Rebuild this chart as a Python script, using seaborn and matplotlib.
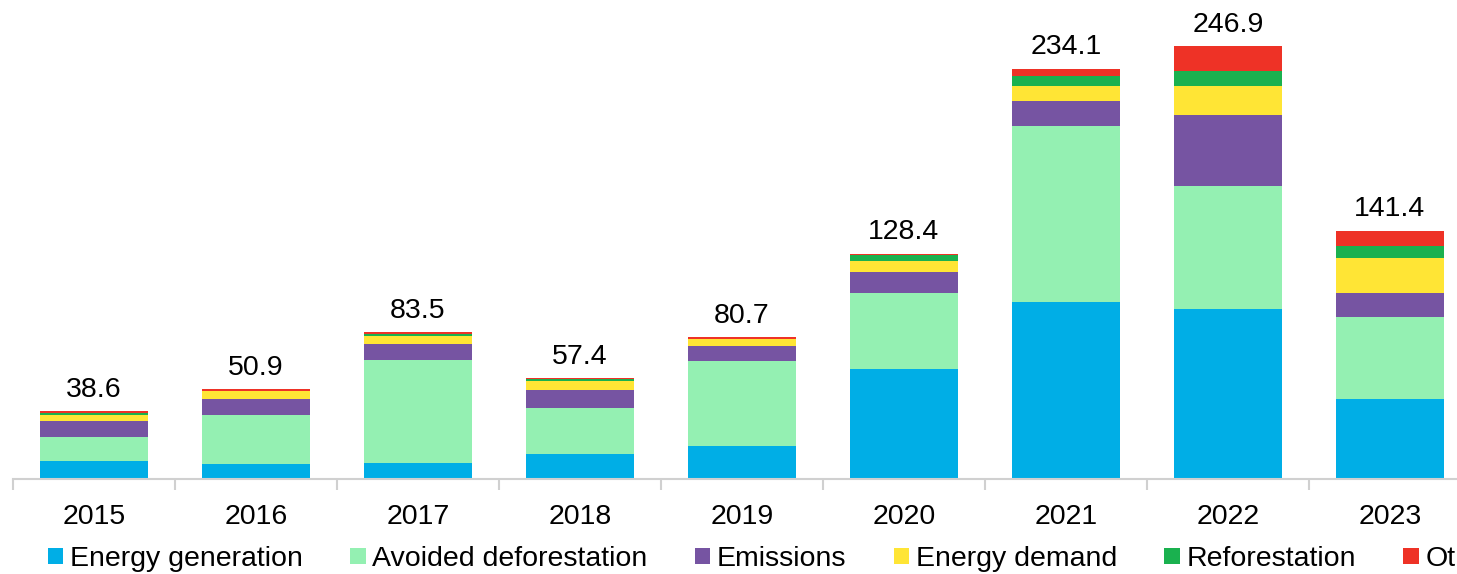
import numpy as np
import pandas as pd
import matplotlib
matplotlib.use("Agg")
import matplotlib.pyplot as plt
import seaborn as sns

years = ["2015", "2016", "2017", "2018", "2019", "2020", "2021", "2022", "2023"]
totals = [38.6, 50.9, 83.5, 57.4, 80.7, 128.4, 234.1, 246.9, 141.4]

energy_generation = [9.8, 8.3, 9.0, 13.9, 18.6, 62.7, 100.5, 96.8, 45.5]
avoided_deforestation = [13.9, 28.1, 58.9, 26.6, 48.5, 43.3, 100.6, 70.2, 46.5]
emissions = [9.1, 9.0, 9.1, 9.9, 8.4, 12.0, 14.6, 40.5, 14.1]
energy_demand = [3.6, 4.4, 4.6, 5.0, 4.0, 6.3, 8.4, 16.7, 19.6]
reforestation = [1.0, 0.4, 1.1, 1.3, 0.3, 3.0, 5.7, 8.4, 7.1]
other = [1.2, 0.7, 0.8, 0.7, 0.9, 1.1, 4.2, 14.3, 8.6]

series = [
    ("Energy generation", energy_generation, "#00aee6"),
    ("Avoided deforestation", avoided_deforestation, "#94f0b2"),
    ("Emissions", emissions, "#7654a2"),
    ("Energy demand", energy_demand, "#ffe535"),
    ("Reforestation", reforestation, "#1ab14f"),
    ("Other", other, "#ee3226"),
]

sns.set_style("white")
plt.rcParams["font.family"] = ["Liberation Sans", "DejaVu Sans"]
plt.rcParams["text.color"] = "black"
fs = 20.5

fig = plt.figure(figsize=(14.57, 5.74), dpi=100)
ax = fig.add_axes([13 / 1457, 1 - 478.5 / 574, 1458 / 1457, 478.5 / 574])

bottom = np.zeros(len(years))
for name, vals, color in series:
    sns.barplot(x=years, y=vals, bottom=bottom, color=color, width=0.667,
                label=name, ax=ax, linewidth=0, saturation=1)
    bottom = bottom + np.array(vals)

for i, t in enumerate(totals):
    ax.annotate(f"{t:.1f}", (i, t), xytext=(0, 6), textcoords="offset points",
                ha="center", va="bottom", fontsize=fs, color="black")

ax.set_xlim(-0.5, 8.5)
ax.set_ylim(0, 273.1)
ax.set_yticks([])
for s in ["top", "right", "left"]:
    ax.spines[s].set_visible(False)
ax.spines["bottom"].set_color("#d0d0d0")
ax.spines["bottom"].set_linewidth(1.5)
ax.set_xticks(np.arange(-0.5, 9, 1), minor=True)
ax.tick_params(axis="x", which="minor", length=8, width=1.5, color="#d0d0d0", bottom=True)
ax.tick_params(axis="x", which="major", length=0, pad=18, labelsize=fs, labelcolor="black")
ax.set_xlabel("")

handles, labels = ax.get_legend_handles_labels()
if ax.get_legend():
    ax.get_legend().remove()
# legend runs past the right edge, as in the original ("Other" is clipped)
fig.legend(handles, labels, loc="center left", bbox_to_anchor=(47.7 / 1457, 0.026), ncol=6,
           frameon=False, fontsize=fs, handlelength=0.55, handleheight=0.53,
           handletextpad=0.23, columnspacing=1.66, borderaxespad=0, borderpad=0)

fig.savefig("out.png", dpi=100)
